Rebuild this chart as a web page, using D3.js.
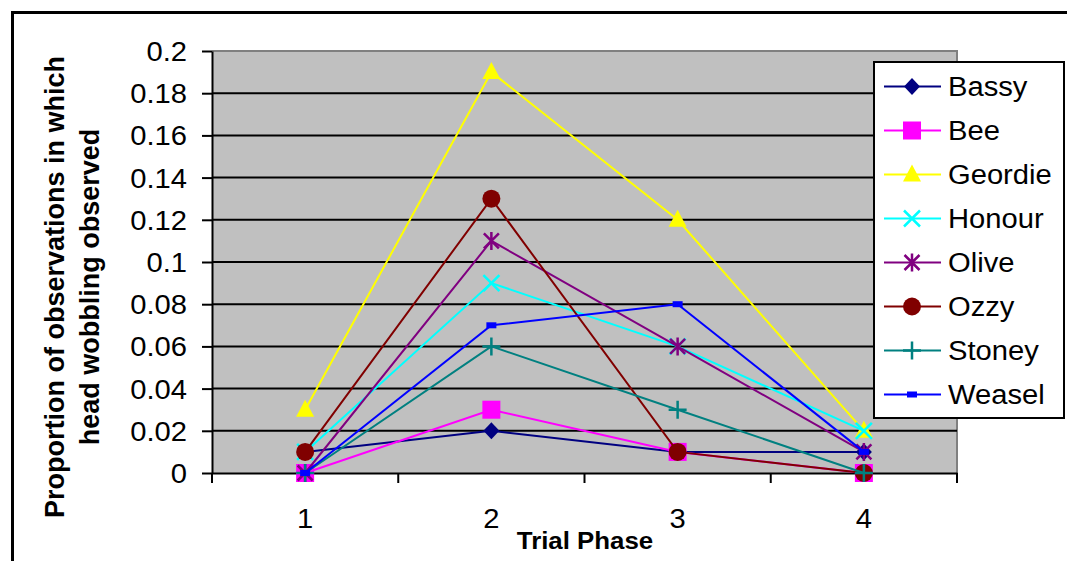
<!DOCTYPE html>
<html><head><meta charset="utf-8">
<script src="https://cdn.jsdelivr.net/npm/d3@7"></script>
<style>body{margin:0;background:#fff}svg{display:block}</style>
</head><body><div id="chart"></div>
<script>
const categories = ["1","2","3","4"];
const seriesNames = ["Bassy","Bee","Geordie","Honour","Olive","Ozzy","Stoney","Weasel"];
const bassy   = [0.01, 0.02, 0.01, 0.01];
const bee     = [0.00, 0.03, 0.01, 0.00];
const geordie = [0.03, 0.19, 0.12, 0.02];
const honour  = [0.01, 0.09, 0.06, 0.02];
const olive   = [0.00, 0.11, 0.06, 0.01];
const ozzy    = [0.01, 0.13, 0.01, 0.00];
const stoney  = [0.00, 0.06, 0.03, 0.00];
const weasel  = [0.00, 0.07, 0.08, 0.01];
const yTicks  = [0,0.02,0.04,0.06,0.08,0.1,0.12,0.14,0.16,0.18,0.2];
const colors  = ["#000080","#FF00FF","#FFFF00","#00FFFF","#800080","#800000","#008080","#0000FF"];
const markers = ["diamond","square","triangle","x","asterisk","circle","plus","dash"];
const values  = [bassy,bee,geordie,honour,olive,ozzy,stoney,weasel];

const W=1067,H=561;
const svg=d3.select("#chart").append("svg").attr("width",W).attr("height",H);
const font="Liberation Sans, Arial, sans-serif";

// outer frame (cut off at right and bottom)
svg.append("rect").attr("x",12.5).attr("y",12.5).attr("width",1100).attr("height",600)
  .attr("fill","none").attr("stroke","#000").attr("stroke-width",3);

const L=212,R=957,T=51,B=473;
const x=d3.scaleBand().domain(categories).range([L,R]);
const y=d3.scaleLinear().domain([0,0.2]).range([B,T]);

svg.append("rect").attr("x",L).attr("y",T).attr("width",R-L).attr("height",B-T).attr("fill","#C0C0C0");
svg.append("path").attr("d",`M${L},${T}H${R}V${B}`).attr("fill","none").attr("stroke","#808080").attr("stroke-width",2);
svg.append("g").selectAll("line").data(yTicks.slice(1,-1)).join("line")
  .attr("x1",L).attr("x2",R).attr("y1",d=>y(d)).attr("y2",d=>y(d))
  .attr("stroke","#000").attr("stroke-width",2);

// y axis
const ya=svg.append("g").attr("transform",`translate(${L},0)`)
  .call(d3.axisLeft(y).tickValues(yTicks).tickFormat(d=>String(+d.toFixed(2))).tickSize(10).tickSizeOuter(0));
ya.select(".domain").attr("stroke","#000").attr("stroke-width",2);
ya.selectAll(".tick line").attr("stroke","#000").attr("stroke-width",2);
ya.selectAll("text").attr("font-family",font).attr("font-size",27).attr("fill","#000")
  .attr("x",0).attr("dy","0.35em").attr("transform","translate(-25,0) scale(1.08,1)");

// x axis
const xa=svg.append("g").attr("transform",`translate(0,${B})`)
  .call(d3.axisBottom(x).tickSize(0).tickSizeOuter(0));
xa.select(".domain").attr("stroke","#000").attr("stroke-width",2);
xa.selectAll("text").attr("font-family",font).attr("font-size",27).attr("fill","#000")
  .attr("y",0).attr("dy",0).attr("transform","translate(0,55) scale(1.08,1)");
const bounds=categories.map(c=>x(c)).concat([x(categories[categories.length-1])+x.bandwidth()]);
svg.append("g").selectAll("line").data(bounds).join("line")
  .attr("x1",d=>d).attr("x2",d=>d).attr("y1",B).attr("y2",B+10).attr("stroke","#000").attr("stroke-width",2);

// titles
svg.append("text").attr("transform","translate(585,549) scale(1.1,1)").attr("text-anchor","middle")
  .attr("font-family",font).attr("font-weight","bold").attr("font-size",23.5).text("Trial Phase");
const yt=svg.append("g").attr("transform","translate(0,287) rotate(-90)");
yt.append("text").attr("x",0).attr("y",64).attr("text-anchor","middle")
  .attr("font-family",font).attr("font-weight","bold").attr("font-size",27).text("Proportion of observations in which");
yt.append("text").attr("x",0).attr("y",99).attr("text-anchor","middle")
  .attr("font-family",font).attr("font-weight","bold").attr("font-size",27).text("head wobbling observed");

function drawMarker(g,type,cx,cy,col){
  if(type==="diamond"){
    g.append("path").attr("d",`M${cx},${cy-8.5}L${cx+8},${cy}L${cx},${cy+8.5}L${cx-8},${cy}Z`).attr("fill",col);
  } else if(type==="square"){
    g.append("rect").attr("x",cx-9).attr("y",cy-9).attr("width",18).attr("height",18).attr("fill",col);
  } else if(type==="triangle"){
    g.append("path").attr("d",`M${cx},${cy-10}L${cx+9},${cy+7}L${cx-9},${cy+7}Z`).attr("fill",col);
  } else if(type==="x"){
    g.append("path").attr("d",`M${cx-8},${cy-8}L${cx+8},${cy+8}M${cx+8},${cy-8}L${cx-8},${cy+8}`).attr("stroke",col).attr("stroke-width",2.5);
  } else if(type==="asterisk"){
    g.append("path").attr("d",`M${cx-7.5},${cy-7.5}L${cx+7.5},${cy+7.5}M${cx+7.5},${cy-7.5}L${cx-7.5},${cy+7.5}M${cx},${cy-9}L${cx},${cy+9}`).attr("stroke",col).attr("stroke-width",2.5);
  } else if(type==="circle"){
    g.append("circle").attr("cx",cx).attr("cy",cy).attr("r",9).attr("fill",col);
  } else if(type==="plus"){
    g.append("path").attr("d",`M${cx-9},${cy}L${cx+9},${cy}M${cx},${cy-9}L${cx},${cy+9}`).attr("stroke",col).attr("stroke-width",2.5);
  } else if(type==="dash"){
    g.append("rect").attr("x",cx-5).attr("y",cy-3).attr("width",10).attr("height",6).attr("fill",col);
  }
}

const line=d3.line().x((d,i)=>x(categories[i])+x.bandwidth()/2).y(d=>y(d));
values.forEach((vals,s)=>{
  const g=svg.append("g");
  g.append("path").datum(vals).attr("d",line).attr("fill","none").attr("stroke",colors[s]).attr("stroke-width",2);
  vals.forEach((v,i)=>drawMarker(g,markers[s],x(categories[i])+x.bandwidth()/2,y(v),colors[s]));
});

// legend
const lg=svg.append("g");
lg.append("rect").attr("x",874).attr("y",62).attr("width",190).attr("height",356)
  .attr("fill","#fff").attr("stroke","#000").attr("stroke-width",2);
seriesNames.forEach((n,s)=>{
  const cy=86.5+s*44;
  const g=lg.append("g");
  g.append("line").attr("x1",884).attr("x2",941).attr("y1",cy).attr("y2",cy).attr("stroke",colors[s]).attr("stroke-width",2);
  drawMarker(g,markers[s],912,cy,colors[s]);
  g.append("text").attr("transform",`translate(948,${cy+9.5}) scale(1.08,1)`)
    .attr("font-family",font).attr("font-size",27).text(n);
});
</script></body></html>
